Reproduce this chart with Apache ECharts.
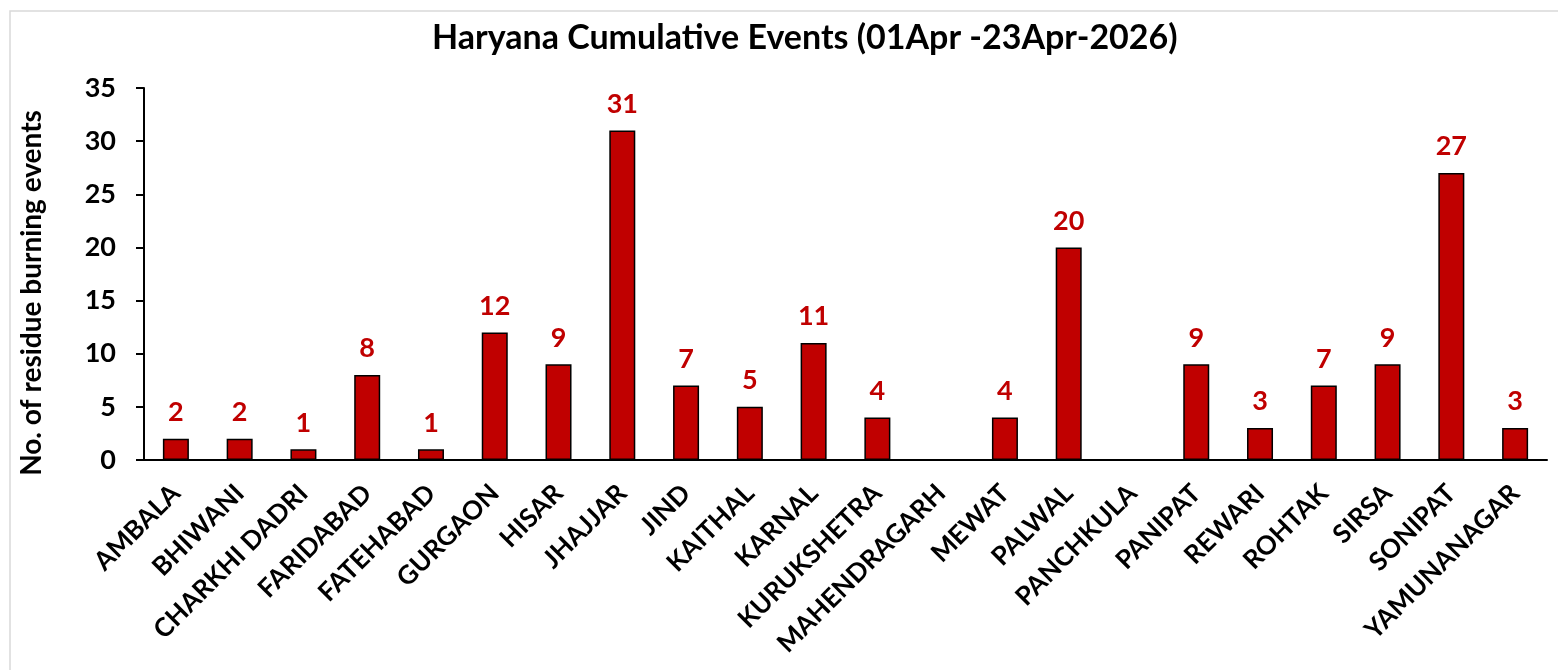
<!DOCTYPE html>
<html>
<head>
<meta charset="utf-8">
<title>Haryana Cumulative Events</title>
<script src="https://cdn.jsdelivr.net/npm/echarts@6/dist/echarts.min.js"></script>
<style>
  html, body { margin: 0; padding: 0; background: #fff; }
  #chart { width: 1558px; height: 670px; }
</style>
</head>
<body>
<div id="chart"></div>
<script>
// districts on the x axis
const districts = [
  'AMBALA', 'BHIWANI', 'CHARKHI DADRI', 'FARIDABAD', 'FATEHABAD', 'GURGAON',
  'HISAR', 'JHAJJAR', 'JIND', 'KAITHAL', 'KARNAL', 'KURUKSHETRA',
  'MAHENDRAGARH', 'MEWAT', 'PALWAL', 'PANCHKULA', 'PANIPAT', 'REWARI',
  'ROHTAK', 'SIRSA', 'SONIPAT', 'YAMUNANAGAR'
];
// cumulative residue burning events
const events = [2, 2, 1, 8, 1, 12, 9, 31, 7, 5, 11, 4, 0, 4, 20, 0, 9, 3, 7, 9, 27, 3];
// y axis ticks
const yMin = 0;
const yMax = 35;
const yStep = 5;

const font = 'Lato, "Open Sans", sans-serif';
const myChart = echarts.init(document.getElementById('chart'));

const option = {
  backgroundColor: '#fff',
  animation: false,
  // light frame round the chart, as in the original
  graphic: [{
    type: 'rect',
    shape: { x: 10, y: 11, width: 1600, height: 700 },
    style: { fill: 'none', stroke: '#d9d9d9', lineWidth: 1.5 },
    silent: true
  }],
  title: {
    text: 'Haryana Cumulative Events (01Apr -23Apr-2026)',
    left: 432,   // title sits a bit right of the page centre
    top: 21,
    padding: 0,
    textStyle: { fontFamily: font, fontSize: 34, fontWeight: 'bold', color: '#000' }
  },
  grid: { left: 144, right: 11, top: 88, bottom: 210, containLabel: false },
  xAxis: {
    type: 'category',
    data: districts,
    axisLine: { lineStyle: { color: '#000', width: 2 } },
    axisTick: { length: 8, lineStyle: { color: '#000', width: 2 } },
    axisLabel: {
      interval: 0,
      rotate: 45,
      margin: 29,
      color: '#000',
      fontFamily: font,
      fontSize: 26,
      fontWeight: 'bold'
    }
  },
  yAxis: {
    type: 'value',
    min: yMin,
    max: yMax,
    interval: yStep,
    name: 'No. of residue burning events',
    nameLocation: 'middle',
    nameGap: 98,
    nameTextStyle: {
      fontFamily: font, fontSize: 28, fontWeight: 'bold', color: '#000',
      padding: [0, 38, 0, 0]   // shifts the rotated name a little downwards
    },
    axisLine: { show: true, lineStyle: { color: '#000', width: 2 } },
    axisTick: { show: true, length: 8, lineStyle: { color: '#000', width: 2 } },
    splitLine: { show: false },
    axisLabel: {
      margin: 28,
      color: '#000',
      fontFamily: font,
      fontSize: 27,
      fontWeight: 'bold'
    }
  },
  series: [{
    name: 'Events',
    type: 'bar',
    data: events,
    barWidth: 26,
    itemStyle: { color: '#C00000', borderColor: '#000', borderWidth: 1.5 },
    label: {
      show: true,
      position: 'top',
      distance: 13,
      color: '#C00000',
      fontFamily: font,
      fontSize: 27,
      fontWeight: 'bold',
      formatter: function (p) {
        return p.value === 0 ? '' : p.value;  // empty districts carry no label
      }
    }
  }]
};

myChart.setOption(option);
</script>
</body>
</html>
